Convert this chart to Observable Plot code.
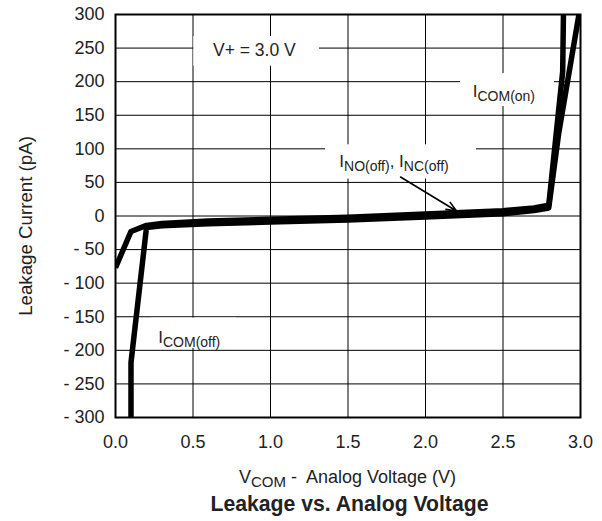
<!DOCTYPE html>
<html>
<head>
<meta charset="utf-8">
<script src="https://cdn.jsdelivr.net/npm/d3@7"></script>
<script src="https://cdn.jsdelivr.net/npm/@observablehq/plot@0.6"></script>
<style>
  html, body { margin: 0; padding: 0; background: #fff; }
  #chart { width: 602px; height: 521px; }
</style>
</head>
<body>
<div id="chart"></div>
<script>
// ---- data ----
const xTicks = [0, 0.5, 1.0, 1.5, 2.0, 2.5, 3.0];
const yTicks = [-300, -250, -200, -150, -100, -50, 0, 50, 100, 150, 200, 250, 300];

// curve that drops to -300 at 0.1 V and rises steeply near 2.95 V
const curveA_x = [0.1, 0.1, 0.2, 0.3, 0.6, 1.0, 1.5, 2.0, 2.5, 2.7, 2.795, 2.86, 2.99];
const curveA_y = [-300, -218, -17, -14.5, -11.5, -9, -6, -1.5, 3.5, 8, 12, 124, 300];
// curve that starts at -77 pA at 0 V and rises near 2.89 V
const curveB_x = [0, 0.1, 0.2, 0.3, 0.6, 1.0, 1.5, 2.0, 2.5, 2.7, 2.795, 2.885, 2.89];
const curveB_y = [-77, -23, -14, -11, -7.5, -5, -2, 3, 8, 12, 16, 215, 300];

const title = "Leakage vs. Analog Voltage";
const yLabel = "Leakage Current (pA)";

// ---- build table ----
const rows = [
  ...curveA_x.map((x, i) => ({series: "A", x, y: curveA_y[i]})),
  ...curveB_x.map((x, i) => ({series: "B", x, y: curveB_y[i]}))
];

// label backgrounds (data space)
const boxes = [
  {x1: 0.505, x2: 1.316, y1: 223, y2: 267},
  {x1: 2.226, x2: 2.832, y1: 163, y2: 212},
  {x1: 1.355, x2: 2.329, y1: 55, y2: 106},
  {x1: 0.23, x2: 0.78, y1: -197, y2: -152}
];

const FONT = "'Liberation Sans', Arial, Helvetica, sans-serif";
const INK = "#222";

const plot = Plot.plot({
  width: 602,
  height: 521,
  marginLeft: 115,
  marginRight: 22,
  marginTop: 14,
  marginBottom: 104,
  style: {fontFamily: FONT, fontSize: "18px", color: INK, background: "#fff"},
  x: {domain: [0, 3]},
  y: {domain: [-300, 300]},
  marks: [
    Plot.ruleX(xTicks, {stroke: "#000", strokeWidth: 1}),
    Plot.ruleY(yTicks, {stroke: "#000", strokeWidth: 1}),
    Plot.rect(boxes, {x1: "x1", x2: "x2", y1: "y1", y2: "y2", fill: "#fff"}),
    Plot.line(rows, {x: "x", y: "y", z: "series", stroke: "#000", strokeWidth: 5.5,
      strokeLinejoin: "round", strokeLinecap: "butt", clip: true}),
    Plot.arrow([{x1: 1.839, y1: 58, x2: 2.2, y2: 7.5}], {x1: "x1", y1: "y1", x2: "x2", y2: "y2",
      stroke: "#000", strokeWidth: 1.6, headLength: 10, headAngle: 45, bend: 0}),
    Plot.frame({stroke: "#000", strokeWidth: 2}),
    Plot.axisX(xTicks, {tickSize: 0, tickPadding: 18, tickFormat: d => d.toFixed(1), label: null,
      fontSize: 18, fill: INK}),
    Plot.axisY(yTicks, {tickSize: 0, tickPadding: 11, label: null, fontSize: 18, fill: INK,
      tickFormat: d => d < 0 ? "- " + Math.abs(d) : String(d)})
  ]
});

document.getElementById("chart").appendChild(plot);

// ---- annotations with subscripts ----
const sx = plot.scale("x"), sy = plot.scale("y");
const svg = d3.select(plot);
const g = svg.append("g").attr("font-family", FONT).attr("fill", INK);

function richText(parent, x, y, parts, opts = {}) {
  const t = parent.append("text")
    .attr("x", x).attr("y", y)
    .attr("font-size", opts.size || 17)
    .attr("text-anchor", opts.anchor || "start");
  if (opts.weight) t.attr("font-weight", opts.weight);
  let shift = 0;
  for (const p of parts) {
    const sub = p.sub;
    const dy = sub ? 4 - shift : -shift;
    shift = sub ? 4 : 0;
    t.append("tspan").attr("dy", dy).attr("font-size", sub ? (opts.subSize || 14) : null).text(p.t);
  }
  return t;
}

richText(g, sx.apply(0.632), sy.apply(237), [{t: "V+ = 3.0 V"}], {size: 17.5});
richText(g, sx.apply(2.308), sy.apply(176), [{t: "I"}, {t: "COM(on)", sub: true}]);
richText(g, sx.apply(1.447), sy.apply(72.7), [{t: "I"}, {t: "NO(off)", sub: true}, {t: ", I"}, {t: "NC(off)", sub: true}]);
richText(g, sx.apply(0.279), sy.apply(-190), [{t: "I"}, {t: "COM(off)", sub: true}]);

// x axis label
richText(g, 347.5, 483, [{t: "V"}, {t: "COM", sub: true}, {t: " -  Analog Voltage (V)"}], {anchor: "middle", size: 18, subSize: 15});
// title
richText(g, 349.5, 511, [{t: title}], {anchor: "middle", size: 21.2, weight: "bold"});
// y axis label
g.append("text")
  .attr("transform", "translate(32,226) rotate(-90)")
  .attr("text-anchor", "middle")
  .attr("font-size", 18.7)
  .text(yLabel);
</script>
</body>
</html>
